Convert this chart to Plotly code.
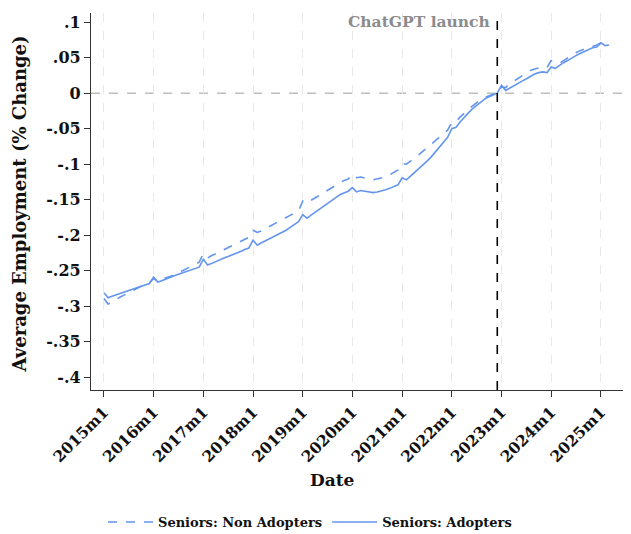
import plotly.graph_objects as go
import pandas as pd

# Monthly series, 2015m1 .. 2025m3
start_month = "2015-01-01"
n_months = 123

non_adopters = [
    # 2015
    -0.289, -0.297, -0.294, -0.290, -0.287, -0.284, -0.281, -0.278, -0.275, -0.272, -0.270, -0.267,
    # 2016
    -0.261, -0.265, -0.262, -0.260, -0.258, -0.256, -0.253, -0.250, -0.246, -0.243, -0.240, -0.238,
    # 2017
    -0.226, -0.232, -0.229, -0.226, -0.223, -0.221, -0.218, -0.215, -0.212, -0.209, -0.206, -0.203,
    # 2018
    -0.193, -0.196, -0.194, -0.191, -0.188, -0.185, -0.182, -0.179, -0.175, -0.172, -0.169, -0.166,
    # 2019
    -0.152, -0.155, -0.151, -0.148, -0.145, -0.141, -0.137, -0.133, -0.129, -0.126, -0.123, -0.121,
    # 2020
    -0.114, -0.119, -0.118, -0.120, -0.121, -0.122, -0.121, -0.120, -0.118, -0.115, -0.112, -0.108,
    # 2021
    -0.099, -0.100, -0.096, -0.092, -0.087, -0.082, -0.077, -0.072, -0.067, -0.062, -0.057, -0.052,
    # 2022
    -0.041, -0.040, -0.034, -0.028, -0.023, -0.018, -0.013, -0.009, -0.006, -0.003, -0.001, 0.000,
    # 2023
    0.009, 0.008, 0.014, 0.017, 0.021, 0.024, 0.028, 0.032, 0.034, 0.036, 0.037, 0.036,
    # 2024
    0.046, 0.043, 0.042, 0.046, 0.050, 0.054, 0.057, 0.060, 0.062, 0.064, 0.066, 0.068,
    # 2025
    0.071, 0.072, 0.075,
]

adopters = [
    # 2015
    -0.281, -0.288, -0.286, -0.284, -0.282, -0.280, -0.278, -0.276, -0.274, -0.272, -0.270, -0.268,
    # 2016
    -0.259, -0.266, -0.264, -0.262, -0.259, -0.257, -0.255, -0.253, -0.251, -0.249, -0.247, -0.245,
    # 2017
    -0.234, -0.242, -0.240, -0.237, -0.235, -0.232, -0.230, -0.228, -0.225, -0.223, -0.220, -0.218,
    # 2018
    -0.207, -0.214, -0.211, -0.208, -0.205, -0.202, -0.199, -0.196, -0.193, -0.189, -0.185, -0.181,
    # 2019
    -0.171, -0.176, -0.172, -0.168, -0.164, -0.160, -0.155, -0.151, -0.147, -0.143, -0.140, -0.138,
    # 2020
    -0.133, -0.139, -0.137, -0.138, -0.140, -0.140, -0.139, -0.138, -0.136, -0.134, -0.132, -0.129,
    # 2021
    -0.119, -0.122, -0.117, -0.112, -0.107, -0.102, -0.096, -0.090, -0.083, -0.076, -0.068, -0.062,
    # 2022
    -0.050, -0.048, -0.041, -0.034, -0.028, -0.022, -0.017, -0.012, -0.008, -0.005, -0.002, 0.000,
    # 2023
    0.011, 0.004, 0.007, 0.010, 0.014, 0.017, 0.020, 0.024, 0.027, 0.029, 0.030, 0.029,
    # 2024
    0.037, 0.035, 0.039, 0.043, 0.046, 0.050, 0.053, 0.056, 0.059, 0.062, 0.064, 0.065,
    # 2025
    0.071, 0.067, 0.068,
]

x_tick_dates = ["2015-01-01", "2016-01-01", "2017-01-01", "2018-01-01", "2019-01-01",
                "2020-01-01", "2021-01-01", "2022-01-01", "2023-01-01", "2024-01-01", "2025-01-01"]
x_tick_labels = ["2015m1", "2016m1", "2017m1", "2018m1", "2019m1", "2020m1",
                 "2021m1", "2022m1", "2023m1", "2024m1", "2025m1"]
y_tick_vals = [0.1, 0.05, 0, -0.05, -0.1, -0.15, -0.2, -0.25, -0.3, -0.35, -0.4]
y_tick_labels = [".1", ".05", "0", "-.05", "-.1", "-.15", "-.2", "-.25", "-.3", "-.35", "-.4"]

launch_date = "2022-12-01"
launch_label = "ChatGPT launch"

dates = pd.date_range(start_month, periods=n_months, freq="MS")

FONT = "DejaVu Serif"
LINE_COLOR = "#6495ED"

# page has an 8px body margin: work in figure pixels = page pixels - 8
OFF = 8
W, H = 631 - OFF, 534 - OFF
L, R, T, B = 91 - OFF, 623 - OFF, 13 - OFF, 390 - OFF


def px_x(page_x):
    return (page_x - OFF - L) / (R - L)


def px_y(page_y):
    return (B - (page_y - OFF)) / (B - T)


fig = go.Figure()
fig.add_trace(go.Scatter(x=dates, y=non_adopters, mode="lines", name="Seniors: Non Adopters",
                         line=dict(color=LINE_COLOR, width=1.6, dash="dash")))
fig.add_trace(go.Scatter(x=dates, y=adopters, mode="lines", name="Seniors: Adopters",
                         line=dict(color=LINE_COLOR, width=1.6)))

# zero line
fig.add_shape(type="line", xref="paper", yref="y", x0=0, x1=1, y0=0, y1=0,
              line=dict(color="#bdbdbd", width=1.6, dash="dash"), layer="below")
# launch line
fig.add_shape(type="line", xref="x", yref="paper", x0=launch_date, x1=launch_date, y0=0, y1=1,
              line=dict(color="black", width=1.6, dash="dash"))

fig.add_annotation(x=launch_date, xref="x", y=px_y(22), yref="paper",
                   text="<b>" + launch_label + "</b>",
                   showarrow=False, xanchor="right", yanchor="middle", xshift=-5,
                   font=dict(family=FONT, size=15.5, color="#8c8c8c"))

fig.add_annotation(x=px_x(332), xref="paper", y=px_y(480), yref="paper",
                   text="<b>Date</b>", showarrow=False, xanchor="center", yanchor="middle",
                   font=dict(family=FONT, size=17, color="#111"))
fig.add_annotation(x=px_x(19.5), xref="paper", y=px_y(204), yref="paper",
                   text="<b>Average Employment (% Change)</b>", textangle=-90,
                   showarrow=False, xanchor="center", yanchor="middle",
                   font=dict(family=FONT, size=18, color="#111"))

fig.update_layout(
    width=W, height=H,
    margin=dict(l=L, r=W - R, t=T, b=H - B, autoexpand=False),
    paper_bgcolor="white", plot_bgcolor="white",
    font=dict(family=FONT, color="#111"),
    showlegend=True,
    legend=dict(orientation="h", x=px_x(310), y=px_y(522),
                xanchor="center", yanchor="middle",
                font=dict(family=FONT, size=13, color="#111", weight="bold"),
                itemwidth=45, tracegroupgap=0),
)

fig.update_xaxes(
    range=["2014-09-28", "2025-06-12"], automargin=False,
    tickmode="array", tickvals=x_tick_dates, ticktext=["<b>" + t + "</b>" for t in x_tick_labels],
    tickangle=-45, tickfont=dict(family=FONT, size=15.5, color="#111"),
    ticks="outside", ticklen=6, tickcolor="#333", tickwidth=1.2,
    showline=True, linecolor="#333", linewidth=1.2,
    showgrid=True, gridcolor="#e8e8e8", griddash="dash", gridwidth=1.2,
    zeroline=False,
)
fig.update_yaxes(
    range=[-0.418, 0.113], automargin=False,
    tickmode="array", tickvals=y_tick_vals, ticktext=["<b>" + t + "</b>" for t in y_tick_labels],
    tickfont=dict(family=FONT, size=16, color="#111"),
    ticks="outside", ticklen=6, tickcolor="#333", tickwidth=1.2,
    showline=True, linecolor="#333", linewidth=1.2,
    showgrid=False, zeroline=False,
)

fig.write_html("out.html")
